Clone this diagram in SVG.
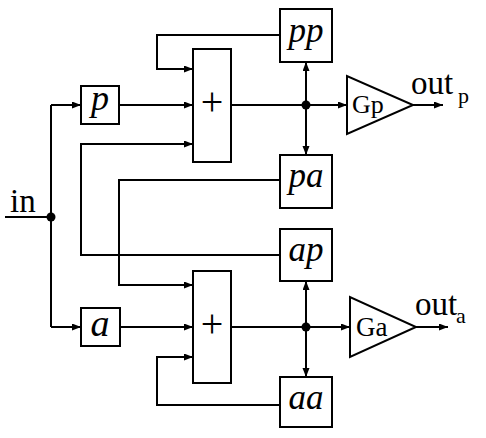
<svg xmlns="http://www.w3.org/2000/svg" width="486" height="438" viewBox="0 0 486 438">
<style>
.box{fill:#fff;stroke:#000;stroke-width:2}
.ln{fill:none;stroke:#000;stroke-width:2}
.arr{fill:none;stroke:#000;stroke-width:2;marker-end:url(#ah)}
.it{font-family:"Liberation Serif","Times New Roman",serif;font-style:italic;fill:#000;text-anchor:middle}
.rm{font-family:"Liberation Serif","Times New Roman",serif;fill:#000}
</style>
<defs>
<marker id="ah" markerUnits="userSpaceOnUse" markerWidth="10" markerHeight="8" refX="9" refY="3.5" orient="auto">
<path d="M0,0 L9,3.5 L0,7 z" fill="#000"/>
</marker>
</defs>
<rect width="486" height="438" fill="#fff"/>
<g id="connectors">
<path class="ln" d="M5,217 H51"/>
<path class="ln" d="M51,217 V105"/>
<path class="arr" d="M51,105 H81"/>
<path class="ln" d="M51,217 V327"/>
<path class="arr" d="M51,327 H81"/>
<path class="arr" d="M119,105 H193"/>
<path class="arr" d="M120,327 H193"/>
<path class="arr" d="M231,105 H347"/>
<path class="arr" d="M231,327 H350"/>
<path class="arr" d="M306,105 V62"/>
<path class="arr" d="M306,105 V155"/>
<path class="arr" d="M306,327 V281"/>
<path class="arr" d="M306,327 V377"/>
<path class="arr" d="M280,35 H157 V69 H193"/>
<path class="arr" d="M280,180 H119 V285 H193"/>
<path class="arr" d="M280,255 H81 V144 H193"/>
<path class="arr" d="M280,405 H157 V357 H193"/>
<path class="arr" d="M413,105 H443"/>
<path class="arr" d="M416,327 H448"/>
<circle cx="51" cy="217" r="4.5" fill="#000"/>
<circle cx="306" cy="105" r="4.5" fill="#000"/>
<circle cx="306" cy="327" r="4.5" fill="#000"/>
</g>
<g id="in-label"><text class="rm" x="10" y="212" font-size="33">in</text></g>
<g id="p"><rect class="box" x="81" y="86" width="38" height="38"/><text class="it" x="100" y="110" font-size="36">p</text></g>
<g id="a"><rect class="box" x="81" y="308" width="39" height="38"/><text class="it" x="100" y="336" font-size="38">a</text></g>
<g id="sum1"><rect class="box" x="193" y="49" width="38" height="113"/><text class="rm" x="212" y="115" font-size="40" text-anchor="middle">+</text></g>
<g id="sum2"><rect class="box" x="193" y="271" width="38" height="112"/><text class="rm" x="212" y="337" font-size="40" text-anchor="middle">+</text></g>
<g id="pp"><rect class="box" x="280" y="9" width="52" height="53"/><text class="it" x="306" y="42" font-size="35">pp</text></g>
<g id="pa"><rect class="box" x="280" y="155" width="52" height="53"/><text class="it" x="306" y="187" font-size="35">pa</text></g>
<g id="ap"><rect class="box" x="280" y="229" width="52" height="52"/><text class="it" x="306" y="261" font-size="35">ap</text></g>
<g id="aa"><rect class="box" x="280" y="377" width="52" height="50"/><text class="it" x="306" y="409" font-size="35">aa</text></g>
<g id="Gp"><path class="box" d="M347,76 L347,134 L413,105 z"/><text class="rm" x="352" y="113" font-size="26">Gp</text></g>
<g id="Ga"><path class="box" d="M350,297 L350,357 L416,327 z"/><text class="rm" x="356" y="336" font-size="27">Ga</text></g>
<g id="out-p"><text class="rm" x="411" y="94" font-size="33">out</text><text class="rm" x="458" y="103" font-size="22">p</text></g>
<g id="out-a"><text class="rm" x="415" y="315" font-size="33">out</text><text class="rm" x="456" y="323" font-size="22">a</text></g>
</svg>
